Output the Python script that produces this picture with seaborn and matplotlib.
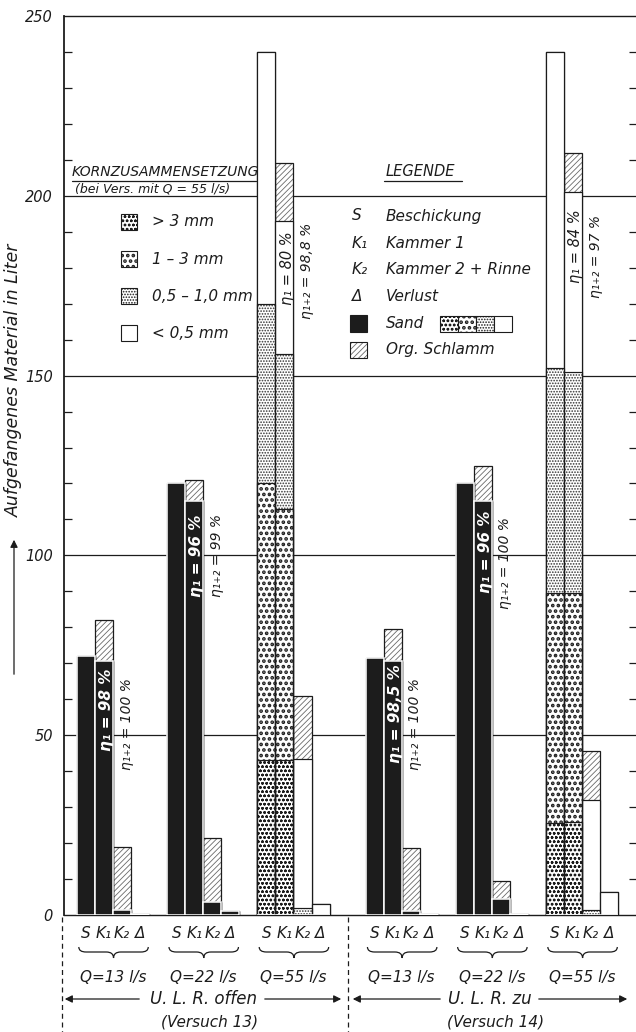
import numpy as np
import pandas as pd
import seaborn as sns
import matplotlib.pyplot as plt
from matplotlib.patches import Rectangle, PathPatch, FancyArrowPatch
from matplotlib.path import Path
from matplotlib.lines import Line2D

# Daten: 6 Versuchsgruppen mit je 4 Säulen (S, K1, K2, Verlust)
groups = ["Q=13 l/s", "Q=22 l/s", "Q=55 l/s", "Q=13 l/s", "Q=22 l/s", "Q=55 l/s"]
columns = ["S", "K₁", "K₂", "Δ"]
slots = [0, 1, 2, 3, 5, 6, 7, 8, 10, 11, 12, 13,
         16, 17, 18, 19, 21, 22, 23, 24, 26, 27, 28, 29]

# Liter je Schicht (von unten nach oben)
sand = [72, 70.5, 1.5, 0.4, 120, 115, 3.5, 1.0, 0, 0, 0, 0,
        71.5, 70.5, 1.0, 0.3, 120, 115, 4.5, 0.3, 0, 0, 0, 0]
gt3 = [0] * 8 + [43, 43, 0, 0] + [0] * 8 + [25.5, 26, 0, 0]
f1_3 = [0] * 8 + [77, 70, 0, 0] + [0] * 8 + [64, 63.5, 0, 0]
f05_1 = [0] * 8 + [50, 43, 2, 0] + [0] * 8 + [62.5, 61.5, 1.5, 0]
lt05 = [0] * 8 + [70, 37, 41.5, 3] + [0] * 8 + [88, 50, 30.5, 6.5]
org = [0, 11.5, 17.5, 0, 0, 6, 18, 0, 0, 16, 17.5, 0,
       0, 9, 17.5, 0, 0, 10, 5, 0, 0, 11, 13.5, 0]

eta1 = ["η₁ = 98 %", "η₁ = 96 %", "η₁ = 80 %", "η₁ = 98,5 %", "η₁ = 96 %", "η₁ = 84 %"]
eta12 = ["η₁₊₂ = 100 %", "η₁₊₂ = 99 %", "η₁₊₂ = 98,8 %", "η₁₊₂ = 100 %", "η₁₊₂ = 100 %", "η₁₊₂ = 97 %"]
yticks = [0, 50, 100, 150, 200, 250]

df = pd.DataFrame({"slot": slots, "sand": sand, "gt3": gt3, "f1_3": f1_3,
                   "f05_1": f05_1, "lt05": lt05, "org": org})
layers = ["sand", "gt3", "f1_3", "f05_1", "lt05", "org"]
cum = df[layers].cumsum(axis=1)

sns.set_theme(style="white")
plt.rcParams['font.family'] = ['DejaVu Sans']
plt.rcParams['font.style'] = 'italic'
plt.rcParams['hatch.linewidth'] = 0.6

W, H = 636, 1032
fig = plt.figure(figsize=(W / 100, H / 100), dpi=100)
x0px, y0px, ytop = 64, 915, 16
ax = fig.add_axes([x0px / W, 1 - y0px / H, (637 - x0px) / W, (y0px - ytop) / H])

def fx(x):
    return x / W

def fy(y):
    return 1 - y / H

def ay(y):
    return (y0px - y) / (y0px - ytop)

def thick_hatch(patches, lw):
    for p in patches:
        if hasattr(p, "set_hatch_linewidth"):
            p.set_hatch_linewidth(lw)

ink = "#1c1c1c"
styles = {
    "lt05": dict(color="white", edgecolor=ink, hatch=None, hlw=0.6),
    "f05_1": dict(color="white", edgecolor="#333333", hatch="......", hlw=0.8),
    "f1_3": dict(color="white", edgecolor=ink, hatch="...", hlw=1.8),
    "gt3": dict(color="white", edgecolor=ink, hatch="oooo", hlw=0.7),
}

# Org. Schlamm (schraffiert), dann Umriss
sns.barplot(x=df["slot"], y=cum["org"], native_scale=True, width=1, color="white",
            edgecolor="#6a6a6a", linewidth=0, hatch="//////", errorbar=None, ax=ax, zorder=2)
sns.barplot(x=df["slot"], y=cum["org"], native_scale=True, width=1, fill=False,
            color=ink, linewidth=0.9, errorbar=None, ax=ax, zorder=3)
for lay in ["lt05", "f05_1", "f1_3", "gt3"]:
    st = styles[lay]
    n = len(ax.patches)
    sns.barplot(x=df["slot"], y=cum[lay], native_scale=True, width=1, color=st["color"],
                edgecolor=st["edgecolor"], hatch=st["hatch"], linewidth=0.8,
                errorbar=None, ax=ax, zorder=4)
    thick_hatch(ax.patches[n:], st["hlw"])
# Rahmen der Schichten in schwarz
for lay in ["lt05", "f05_1", "f1_3", "gt3"]:
    sns.barplot(x=df["slot"], y=cum[lay].where(df[lay] > 0, 0), native_scale=True, width=1,
                fill=False, color=ink, linewidth=0.8, errorbar=None, ax=ax, zorder=5)
sns.barplot(x=df["slot"], y=cum["sand"], native_scale=True, width=1, color=ink,
            edgecolor="white", linewidth=1.1, errorbar=None, ax=ax, zorder=6)

ax.set_xlim(-0.5 - (77 - x0px) / 18.04, -0.5 + (637 - 77) / 18.04)
ax.set_ylim(0, 250)
ax.set_xticks([])
ax.set_xlabel("")
ax.set_ylabel("")
ax.set_yticks(yticks)
ax.set_yticklabels([str(v) for v in yticks], fontsize=10.5, style="italic", color=ink)
ax.set_yticks(np.arange(0, 251, 10), minor=True)
ax.tick_params(axis="y", which="major", length=0, pad=8)
ax.tick_params(axis="y", which="minor", direction="in", length=6, width=0.9,
               left=True, right=True, color=ink)
ax.grid(False)
for v in yticks[1:-1]:
    ax.axhline(v, color=ink, lw=0.9, zorder=1)
for s in ["left", "bottom", "top"]:
    ax.spines[s].set_color(ink)
    ax.spines[s].set_linewidth(1.0)
ax.spines["left"].set_linewidth(1.3)
ax.spines["right"].set_visible(False)

# Wirkungsgrade
eta1_y = [57, 100, 180, 56, 101, 186]
eta12_y = [53, 100, 179, 53, 98, 183]
for g in range(6):
    k1 = slots[g * 4 + 1]
    k2 = slots[g * 4 + 2]
    dark = sand[g * 4 + 1] > 0
    ax.text(k1 + 0.15, eta1_y[g], eta1[g], rotation=90, ha="center", va="center",
            fontsize=11 if dark else 10.5, fontweight="bold" if dark else "normal",
            color="white" if dark else ink, zorder=8)
    ax.text(k2 + 0.25, eta12_y[g], eta12[g], rotation=90, ha="center", va="center",
            fontsize=10, color=ink, zorder=8)

# Beschriftung unter den Säulen
xt = ax.get_xaxis_transform()
for g in range(6):
    sl = slots[g * 4:g * 4 + 4]
    for s, c in zip(sl, columns):
        ax.text(s, ay(934), c, transform=xt, ha="center", va="center", fontsize=11,
                color=ink, clip_on=False)
    a, b = sl[0] - 0.4, sl[-1] + 0.45
    m = (a + b) / 2
    yt, yb, yc = ay(947), ay(952), ay(958)
    verts = [(a, yt), (a, yb), (a + 0.4, yb), (m - 0.4, yb), (m, yb), (m, yc),
             (m, yb), (m + 0.4, yb), (b - 0.4, yb), (b, yb), (b, yt)]
    codes = [Path.MOVETO, Path.CURVE3, Path.CURVE3, Path.LINETO, Path.CURVE3, Path.CURVE3,
             Path.CURVE3, Path.CURVE3, Path.LINETO, Path.CURVE3, Path.CURVE3]
    ax.add_patch(PathPatch(Path(verts, codes), transform=xt, fill=False, lw=0.9,
                           color=ink, clip_on=False))
    ax.text(np.mean(sl), ay(977), groups[g], transform=xt, ha="center", va="center",
            fontsize=11, color=ink, clip_on=False)

# Versuchsbereiche
for x in [62, 348]:
    fig.add_artist(Line2D([fx(x), fx(x)], [fy(917), fy(1032)], transform=fig.transFigure,
                          color=ink, lw=0.9, ls=(0, (4, 3))))
for (a, b), (c, d), xc, t1, t2 in [((142, 62), (262, 344), 204, "U. L. R. offen", "(Versuch 13)"),
                                   ((443, 350), (536, 630), 490, "U. L. R. zu", "(Versuch 14)")]:
    for s, e in [(a, b), (c, d)]:
        fig.add_artist(FancyArrowPatch((fx(s), fy(999)), (fx(e), fy(999)),
                                       transform=fig.transFigure, arrowstyle="-|>",
                                       mutation_scale=11, color=ink, lw=0.9))
    fig.text(fx(xc), fy(999), t1, ha="center", va="center", fontsize=12, color=ink)
    fig.text(fx(xc + 6), fy(1022), t2, ha="center", va="center", fontsize=11, color=ink)

# Achsenbeschriftung
fig.text(fx(14), fy(380), "Aufgefangenes Material in Liter", rotation=90, ha="center",
         va="center", fontsize=12.5, color=ink)
fig.add_artist(FancyArrowPatch((fx(14), fy(677)), (fx(14), fy(537)), transform=fig.transFigure,
                               arrowstyle="-|>", mutation_scale=11, color=ink, lw=0.9))

# Legende Kornzusammensetzung
fig.text(fx(72), fy(172), "KORNZUSAMMENSETZUNG", ha="left", va="center", fontsize=10, color=ink)
fig.add_artist(Line2D([fx(72), fx(256)], [fy(181), fy(181)], transform=fig.transFigure,
                      color=ink, lw=0.9))
fig.text(fx(75), fy(189), "(bei Vers. mit Q = 55 l/s)", ha="left", va="center", fontsize=9,
         color=ink)
korn = [("gt3", "> 3 mm"), ("f1_3", "1 – 3 mm"), ("f05_1", "0,5 – 1,0 mm"), ("lt05", "< 0,5 mm")]
for i, (lay, lab) in enumerate(korn):
    yc = 222 + i * 37
    st = styles[lay]
    r = Rectangle((fx(121), fy(yc + 8)), 16 / W, 16 / H, transform=fig.transFigure,
                  facecolor=st["color"], edgecolor=ink, hatch=st["hatch"], lw=0.8)
    thick_hatch([r], st["hlw"])
    fig.add_artist(r)
    fig.text(fx(152), fy(yc), lab, ha="left", va="center", fontsize=11, color=ink)

# Legende
fig.text(fx(386), fy(172), "LEGENDE", ha="left", va="center", fontsize=10.5, color=ink)
fig.add_artist(Line2D([fx(384), fx(462)], [fy(181), fy(181)], transform=fig.transFigure,
                      color=ink, lw=0.9))
for sym, lab, yc in [("S", "Beschickung", 216), ("K₁", "Kammer 1", 243),
                     ("K₂", "Kammer 2 + Rinne", 269), ("Δ", "Verlust", 296)]:
    fig.text(fx(352), fy(yc), sym, ha="left", va="center", fontsize=11, color=ink)
    fig.text(fx(386), fy(yc), lab, ha="left", va="center", fontsize=11, color=ink)
fig.add_artist(Rectangle((fx(350), fy(332)), 17 / W, 17 / H, transform=fig.transFigure,
                         facecolor=ink, edgecolor=ink, lw=0.8))
fig.text(fx(386), fy(324), "Sand", ha="left", va="center", fontsize=11, color=ink)
for i, lay in enumerate(["gt3", "f1_3", "f05_1", "lt05"]):
    st = styles[lay]
    r = Rectangle((fx(440 + i * 18), fy(332)), 18 / W, 16 / H, transform=fig.transFigure,
                  facecolor=st["color"], edgecolor=ink, hatch=st["hatch"], lw=0.8)
    thick_hatch([r], st["hlw"])
    fig.add_artist(r)
fig.add_artist(Rectangle((fx(350), fy(358)), 17 / W, 16 / H, transform=fig.transFigure,
                         facecolor="white", edgecolor="#6a6a6a", hatch="//////", lw=0))
fig.add_artist(Rectangle((fx(350), fy(358)), 17 / W, 16 / H, transform=fig.transFigure,
                         fill=False, edgecolor=ink, lw=0.8))
fig.text(fx(386), fy(350), "Org. Schlamm", ha="left", va="center", fontsize=11, color=ink)

fig.savefig("out.png", dpi=100)
